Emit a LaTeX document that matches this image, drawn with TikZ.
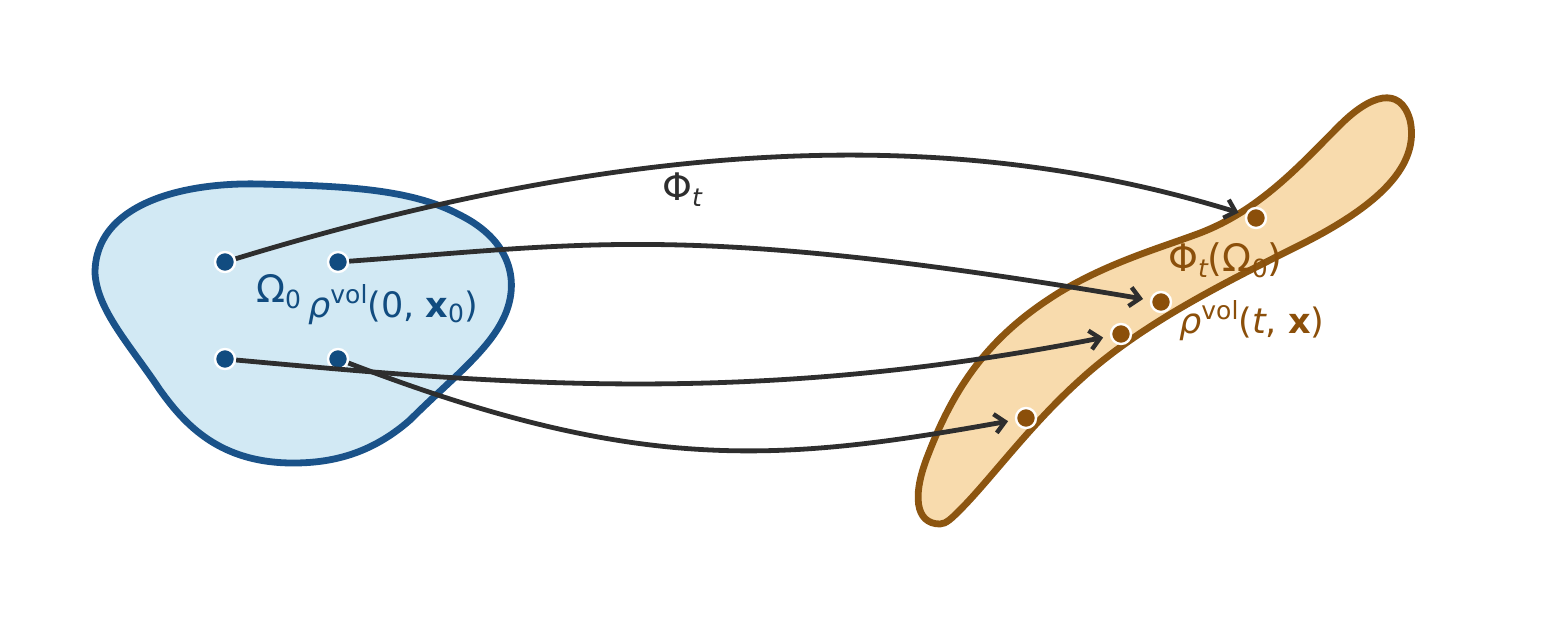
\documentclass[tikz,border=0pt]{standalone}
\usepackage{fontspec}
\setmainfont{DejaVu Sans}
\usetikzlibrary{arrows.meta}
\definecolor{bfill}{HTML}{D2E9F4}
\definecolor{bline}{HTML}{1A5289}
\definecolor{bdot}{HTML}{114C80}
\definecolor{ofill}{HTML}{F8DBAD}
\definecolor{oline}{HTML}{8C5510}
\definecolor{odot}{HTML}{8B4F0A}
\definecolor{arr}{HTML}{2E2E2E}
\newcommand\lsub[1]{\raisebox{-0.17em}{\fontsize{25}{25}\selectfont #1}}
\newcommand\lsup[1]{\raisebox{0.40em}{\fontsize{25}{25}\selectfont #1}}
\tikzset{
  region/.style={line width=6.8pt,line join=round},
  dotb/.style={circle,fill=bdot,draw=white,line width=2.4pt,minimum size=20pt,inner sep=0pt},
  doto/.style={circle,fill=odot,draw=white,line width=2.4pt,minimum size=20pt,inner sep=0pt},
  flow/.style={draw=arr,line width=4.8pt,-{Straight Barb[length=10pt,width=19pt,line width=4.4pt]},shorten >=7pt},
  lab/.style={font=\fontsize{38}{38}\selectfont,inner sep=0pt,anchor=base west},
  labs/.style={font=\fontsize{35}{35}\selectfont,inner sep=0pt,anchor=base west}
}
\begin{document}
\begin{tikzpicture}[x=1pt,y=-1pt]
\useasboundingbox (0,0) rectangle (1549,622);
% blue region
\draw[region,draw=bline,fill=bfill] (95,273)
  .. controls (95,205) and (180,182) .. (260,184)
  .. controls (340,186) and (410,188) .. (460,215)
  .. controls (510,240) and (520,280) .. (505,315)
  .. controls (490,350) and (450,380) .. (410,420)
  .. controls (370,455) and (330,463) .. (293,463)
  .. controls (220,463) and (185,425) .. (160,390)
  .. controls (130,345) and (97,310) .. (95,273) -- cycle;
% orange region
\draw[region,draw=oline,fill=ofill] (940,524)
  .. controls (915,524) and (912,495) .. (928,455)
  .. controls (955,385) and (990,335) .. (1060,292)
  .. controls (1110,262) and (1160,248) .. (1200,233)
  .. controls (1260,210) and (1300,165) .. (1340,125)
  .. controls (1370,95) and (1400,85) .. (1410,120)
  .. controls (1420,165) and (1380,205) .. (1300,245)
  .. controls (1220,285) and (1140,325) .. (1080,380)
  .. controls (1030,425) and (990,480) .. (960,510)
  .. controls (952,518) and (946,524) .. (940,524) -- cycle;
% dots
\node[dotb] (b1) at (225,262) {};
\node[dotb] (b2) at (338,262) {};
\node[dotb] (b3) at (225,359) {};
\node[dotb] (b4) at (338,359) {};
\node[doto] (o1) at (1256,218) {};
\node[doto] (o2) at (1161,302) {};
\node[doto] (o3) at (1121,334) {};
\node[doto] (o4) at (1026,418) {};
% arrows
\draw[flow] (b1) .. controls (690,120) and (995,138) .. (o1);
\draw[flow] (b2) .. controls (588,244) and (690,222) .. (o2);
\draw[flow] (b3) .. controls (500,384) and (749,407) .. (o3);
\draw[flow] (b4) .. controls (640,475) and (780,462) .. (o4);
% labels
\node[lab,text=bdot] (l1) at (256,302) {Ω\lsub{0}};
\node[labs,text=bdot] (l2) at (308,317) {{\itshape ρ}\lsup{vol}(0, {\bfseries x}\lsub{0})};
\node[lab,text=arr] (l3) at (662,200) {Φ\lsub{\itshape t}};
\node[lab,text=odot] (l4) at (1168,271) {Φ\lsub{\itshape t}(Ω\lsub{0})};
\node[labs,text=odot] (l5) at (1179,333) {{\itshape ρ}\lsup{vol}({\itshape t}, {\bfseries x})};
\end{tikzpicture}
\end{document}
